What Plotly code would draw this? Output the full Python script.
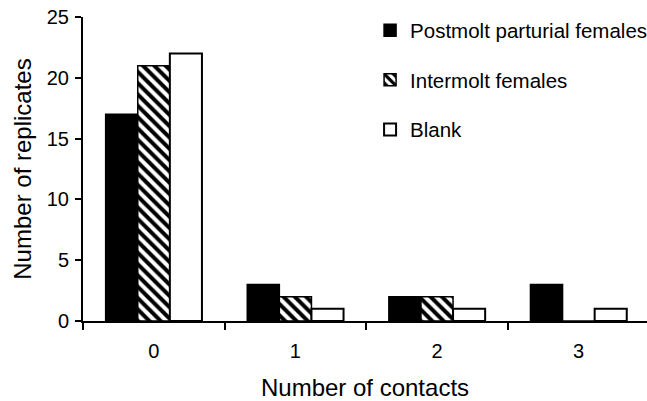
import plotly.graph_objects as go

categories = ["0", "1", "2", "3"]
series_names = ["Postmolt parturial females", "Intermolt females", "Blank"]
postmolt = [17, 3, 2, 3]
intermolt = [21, 2, 2, 0]
blank = [22, 1, 1, 1]
y_ticks = [0, 5, 10, 15, 20, 25]

FONT = "Liberation Sans, Arial, sans-serif"

fig = go.Figure()
fig.add_trace(go.Bar(
    x=categories, y=postmolt, name=series_names[0], legendgroup="a",
    marker=dict(color="black", line=dict(color="black", width=1.5)),
))
fig.add_trace(go.Bar(
    x=categories, y=intermolt, name=series_names[1], legendgroup="b",
    marker=dict(color="white", line=dict(color="black", width=1.5),
                pattern=dict(shape="\\", fgcolor="black", bgcolor="white",
                             size=8, solidity=0.5, fillmode="replace")),
))
fig.add_trace(go.Bar(
    x=categories, y=blank, name=series_names[2], legendgroup="c",
    marker=dict(color="white", line=dict(color="black", width=2)),
))

fig.update_layout(
    width=647, height=401,
    margin=dict(l=83, r=0, t=17, b=80, autoexpand=False),
    paper_bgcolor="white", plot_bgcolor="white",
    font=dict(family=FONT, size=20, color="black"),
    barmode="group", bargap=0.32, bargroupgap=0,
    showlegend=True,
    legend=dict(x=0.509, y=1.022, xanchor="left", yanchor="top",
                font=dict(size=20.5), tracegroupgap=20,
                traceorder="grouped", bgcolor="rgba(0,0,0,0)"),
    xaxis=dict(
        type="category", range=[-0.5, 3.483], automargin=False,
        showline=True, linecolor="black", linewidth=2,
        ticks="outside", tickson="boundaries", ticklen=7, tickwidth=2,
        tickcolor="black", showgrid=False, zeroline=False,
        tickfont=dict(size=20), ticklabelstandoff=11,
        title=dict(text="Number of contacts", font=dict(size=24), standoff=22),
    ),
    yaxis=dict(
        range=[0, 25], tickvals=y_ticks, automargin=False,
        showline=True, linecolor="black", linewidth=2,
        ticks="outside", ticklen=6, tickwidth=2, tickcolor="black",
        showgrid=False, zeroline=False, ticklabeloverflow="allow",
        tickfont=dict(size=20), ticklabelstandoff=2,
        title=dict(text="Number of replicates", font=dict(size=24), standoff=8),
    ),
)

# Remove the browser's default 8px page margin so the figure fills the window.
fig.write_html(
    "out.html",
    config={"displayModeBar": False},
    post_script="document.body.style.margin='0';document.body.style.overflow='hidden';",
)
